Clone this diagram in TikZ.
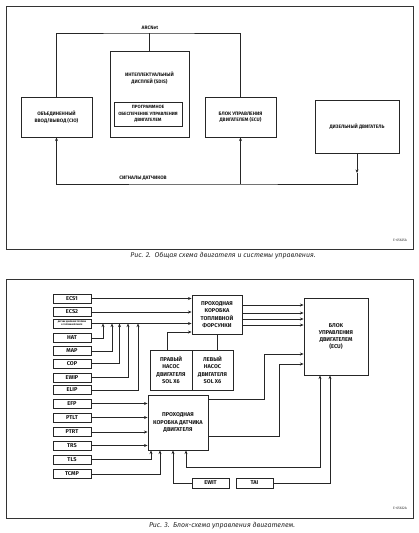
\documentclass[tikz,border=0pt]{standalone}
\usepackage{fontspec}
\setmainfont{Fira Sans}
\usetikzlibrary{arrows.meta}
\newcommand\fsA{\bfseries\fontsize{4.9}{6.6}\selectfont}
\newcommand\fsB{\bfseries\fontsize{5.6}{7.3}\selectfont}
\newcommand\fsC{\fontsize{3.4}{4}\selectfont}
\newcommand\fsD{\itshape\fontsize{7}{8}\selectfont}
\newcommand\fsE{\bfseries\fontsize{2.1}{2.6}\selectfont}
\tikzset{
  frame/.style={draw=black!80, line width=0.8pt},
  boxA/.style={draw=black!85, line width=0.9pt, inner sep=0pt, align=center, font=\fsA, text=black!90},
  boxB/.style={draw=black!85, line width=0.9pt, inner sep=0pt, align=center, font=\fsB, text=black!90},
  lb/.style={boxB, minimum width=38pt, minimum height=9pt},
  tA/.style={inner sep=0pt, align=center, font=\fsA, text=black!90},
  ln/.style={draw=black!85, line width=0.85pt},
  arr/.style={-{Stealth[length=3.6pt,width=3pt]}},
  darr/.style={{Stealth[length=3.6pt,width=3pt]}-{Stealth[length=3.6pt,width=3pt]}},
  code/.style={inner sep=0pt, font=\fsC, text=black!80},
  capt/.style={inner sep=0pt, font=\fsD, text=black!85}
}
\begin{document}
\begin{tikzpicture}[x=1pt,y=-1pt]
\useasboundingbox (0,0) rectangle (419,533);
% ---------- Figure 2 ----------
\draw[frame] (6,6) rectangle (413,249);
\node[boxA, minimum width=71pt, minimum height=40pt] (cio) at (56.5,117) {ОБЪЕДИНЕННЫЙ\\ВВОД/ВЫВОД (CIO)};
\node[boxA, minimum width=79pt, minimum height=86pt] (sdis) at (149.5,94) {};
\node[tA] (sdist) at (149.5,78) {ИНТЕЛЛЕКТУАЛЬНЫЙ\\ДИСПЛЕЙ (SDIS)};
\node[boxA, minimum width=68pt, minimum height=24pt, font=\bfseries\fontsize{4.6}{6.5}\selectfont] (sw) at (148,114) {ПРОГРАММНОЕ\\ОБЕСПЕЧЕНИЕ УПРАВЛЕНИЯ\\ДВИГАТЕЛЕМ};
\node[boxA, minimum width=71pt, minimum height=40pt] (ecua) at (240.5,117) {БЛОК УПРАВЛЕНИЯ\\ДВИГАТЕЛЕМ (ECU)};
\node[boxA, minimum width=84pt, minimum height=53pt] (dsl) at (357,126.5) {ДИЗЕЛЬНЫЙ ДВИГАТЕЛЬ};
\node[tA] (arcl) at (150,28) {ARCNet};
\coordinate (bus) at (149.5,33);
\draw[ln] (cio.north) |- (bus) -| (ecua.north);
\draw[ln] (bus) -- (sdis.north);
\coordinate (sig) at (200,184);
\coordinate (dmid) at (357,173);
\draw[ln,arr] (dsl.south) -- (dmid);
\draw[ln,arr] (dmid) |- (sig) -| (cio.south);
\draw[ln,arr] (ecua.south |- sig) -- (ecua.south);
\node[tA] (sigl) at (143,178) {СИГНАЛЫ ДАТЧИКОВ};
\node[code] (c1) at (400,240) {E-65625A};
\node[capt] (cap1) at (223,256) {Рис. 2.\ \ Общая схема двигателя и системы управления.};
% ---------- Figure 3 ----------
\draw[frame] (6,279) rectangle (413,518);
\node[lb] (ecs1) at (72,298.5) {ECS1};
\node[lb] (ecs2) at (72,312) {ECS2};
\node[lb, font=\fsE] (lcm) at (72,323.5) {ДАТЧИК ДАВЛЕНИЯ ТОПЛИВА\\В ТОПЛИВНОЙ РАМПЕ};
\node[lb] (hat) at (72,338) {HAT};
\node[lb] (map) at (72,351) {MAP};
\node[lb] (cop) at (72,363.5) {COP};
\node[lb] (ewip) at (72,377.5) {EWIP};
\node[lb] (elip) at (72,390) {ELIP};
\node[lb] (efp) at (72,403.5) {EFP};
\node[lb] (ptlt) at (72,417.5) {PTLT};
\node[lb] (ptrt) at (72,432) {PTRT};
\node[lb] (trs) at (72,445.5) {TRS};
\node[lb] (tls) at (72,459.5) {TLS};
\node[lb] (tcmp) at (72,474) {TCMP};
\node[boxB, minimum width=50pt, minimum height=39pt] (fjb) at (217,314.5) {ПРОХОДНАЯ\\КОРОБКА\\ТОПЛИВНОЙ\\ФОРСУНКИ};
\node[boxB, minimum width=42pt, minimum height=40pt] (rp) at (171,370) {ПРАВЫЙ\\НАСОС\\ДВИГАТЕЛЯ\\SOL X6};
\node[boxB, minimum width=41pt, minimum height=40pt] (lp) at (212.5,370) {ЛЕВЫЙ\\НАСОС\\ДВИГАТЕЛЯ\\SOL X6};
\node[boxB, minimum width=64pt, minimum height=77pt] (ecub) at (336,336.5) {БЛОК\\УПРАВЛЕНИЯ\\ДВИГАТЕЛЕМ\\(ECU)};
\node[boxB, minimum width=60pt, minimum height=55pt] (sjb) at (178,422.5) {ПРОХОДНАЯ\\КОРОБКА ДАТЧИКА\\ДВИГАТЕЛЯ};
\node[lb, minimum width=37pt, minimum height=10pt] (ewit) at (210.5,483) {EWIT};
\node[lb, minimum width=37pt, minimum height=10pt] (tai) at (254.5,483) {TAI};
% inputs to fuel box
\draw[ln,arr] (ecs1.east) -- (ecs1.east -| fjb.west);
\draw[ln,arr] (ecs2.east) -- (ecs2.east -| fjb.west);
\draw[ln,arr] (lcm.east) -- (lcm.east -| fjb.west);
\draw[ln,arr] ([xshift=-4pt]rp.north) |- ([yshift=-17.5pt]fjb.west);
\draw[ln] (fjb.south) -- (fjb.south |- lp.north);
% sensors to the line
\coordinate (j1) at (103,323.5);
\coordinate (j2) at (112,323.5);
\coordinate (j3) at (119.5,323.5);
\coordinate (j4) at (128,323.5);
\coordinate (j5) at (138,323.5);
\draw[ln,arr] (hat.east) -| (j1);
\draw[ln,arr] (map.east) -| (j2);
\draw[ln,arr] (cop.east) -| (j3);
\draw[ln,arr] (ewip.east) -| (j4);
\draw[ln,arr] (elip.east) -| (j5);
% fuel box to ECU
\draw[ln,arr] ([yshift=9.5pt]fjb.east) -- ([yshift=9.5pt]fjb.east -| ecub.west);
\draw[ln,arr] ([yshift=1.5pt]fjb.east) -- ([yshift=1.5pt]fjb.east -| ecub.west);
\draw[ln,arr] ([yshift=-4.5pt]fjb.east) -- ([yshift=-4.5pt]fjb.east -| ecub.west);
\draw[ln,arr] ([yshift=-10.5pt]fjb.east) -- ([yshift=-10.5pt]fjb.east -| ecub.west);
% inputs to sensor box
\draw[ln,arr] (efp.east) -- (efp.east -| sjb.west);
\draw[ln,arr] (ptlt.east) -- (ptlt.east -| sjb.west);
\draw[ln,arr] (ptrt.east) -- (ptrt.east -| sjb.west);
\draw[ln,arr] (trs.east) -- (trs.east -| sjb.west);
\draw[ln,arr] (tls.east) -| ([xshift=-27pt]sjb.south);
\draw[ln,arr] (tcmp.east) -| ([xshift=-18pt]sjb.south);
\draw[ln,arr] (ewit.west) -| ([xshift=-5pt]sjb.south);
\draw[ln,darr] ([xshift=8pt]sjb.south) -- ++(0,17) -| ([xshift=-16pt]ecub.south);
\draw[ln,arr] (tai.east) -| ([xshift=-6pt]ecub.south);
% sensor box to ECU
\draw[ln,arr] ([yshift=23.5pt]sjb.east) -- ++(56,0) |- ([yshift=-17.5pt]ecub.west);
\draw[ln,arr] ([yshift=-13.5pt]sjb.east) -- ++(71,0) |- ([yshift=-27.5pt]ecub.west);
\node[code] (c2) at (400,508) {E-65632A};
\node[capt] (cap2) at (222,526) {Рис. 3.\ \ Блок-схема управления двигателем.};
\end{tikzpicture}
\end{document}
